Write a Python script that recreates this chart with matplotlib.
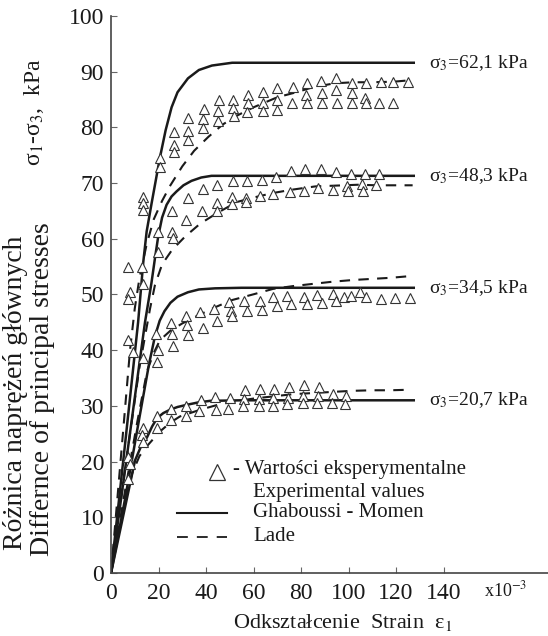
import matplotlib
matplotlib.use("Agg")
import matplotlib.pyplot as plt

# Fonts: Times-like serif for everything
plt.rcParams['font.family'] = ['Liberation Serif', 'DejaVu Serif']
plt.rcParams['mathtext.fontset'] = 'stix'

ink = '#1a1a1a'

# ---- data (strain x10^-3, deviator stress kPa) ----
# Ghaboussi - Momen (solid)
gm_62_x = [0, 6, 11.4, 13.6, 15, 17.1, 20.6, 23, 25.5, 28, 32.4, 37, 42.5, 51, 128]
gm_62_y = [0, 23.5, 45, 55.9, 61.3, 66.4, 74.6, 79.5, 83.6, 86.3, 88.8, 90.3, 91.1, 91.6, 91.6]
gm_48_x = [0, 7, 14.3, 17, 18.5, 19.9, 21.5, 23.4, 25.5, 27.6, 30.5, 33.9, 38, 42.3, 50, 128]
gm_48_y = [0, 22, 45, 52, 56.5, 60.5, 63.8, 66.1, 67.6, 68.5, 69.6, 70.4, 71, 71.3, 71.3, 71.3]
gm_34_x = [0, 6, 12, 16, 18.5, 20.5, 22.5, 25, 28, 32.4, 37, 43.8, 55, 128]
gm_34_y = [0, 13.5, 28, 37.5, 42.5, 45.3, 47, 48.5, 49.6, 50.4, 50.9, 51.1, 51.2, 51.2]
gm_20_x = [0, 5, 10.1, 12.5, 15.2, 17.3, 19.4, 22, 24.8, 28, 32, 36.5, 41.7, 55, 128]
gm_20_y = [0, 10, 20.2, 22.6, 24.4, 26.3, 27.8, 28.7, 29.3, 29.8, 30.2, 30.6, 30.9, 31, 31]

# Lade (dashed)
lade_62_x = [0, 4, 8, 10, 12, 15, 18, 21.5, 25, 30, 35, 41, 47, 53, 60, 70, 78, 85, 94, 102, 110, 119, 127]
lade_62_y = [0, 20, 40, 47.5, 53, 59, 63.5, 66.8, 69.6, 73, 75.8, 78.3, 80.5, 82.1, 83.6, 85.4, 86.3, 87.2, 87.9, 88.1, 88.1, 88.2, 88.5]
lade_48_x = [0, 6, 12, 16.4, 18.5, 21.5, 25.7, 31.2, 37.5, 44.6, 53, 60, 68, 76, 86, 104, 112, 127]
lade_48_y = [0, 19, 37, 47.4, 51.7, 55.4, 58, 60.4, 62.7, 64.6, 66.6, 67.4, 68.2, 68.8, 69.4, 69.7, 69.6, 69.6]
lade_34_x = [0, 6, 11, 15.2, 18, 20.6, 25, 30, 37, 43.8, 51, 60.6, 68.2, 76.6, 85, 93.5, 102, 110, 118, 126]
lade_34_y = [0, 15, 27, 36.3, 39.5, 41.8, 43.5, 44.8, 46.3, 47.7, 49, 50.1, 51, 51.5, 51.9, 52.3, 52.6, 52.8, 53, 53.3]
lade_20_x = [0, 5, 9, 12, 15.6, 20.6, 25, 29, 37.5, 45, 52, 59.8, 68.2, 76.6, 85, 93, 101.5, 110, 117.5, 126]
lade_20_y = [0, 11.5, 18, 21, 23, 25.4, 27, 28.1, 29.3, 30.2, 30.8, 31.3, 31.7, 32.1, 32.3, 32.5, 32.7, 32.8, 32.8, 32.9]

# experimental values (triangles)
exp_62_x = [13.6, 13.6, 13.6, 20.6, 20.6, 26.4, 26.4, 26.4, 32.3, 32.3, 32.3, 39.1, 38.9, 38.9,
            45.6, 45.2, 45.2, 51.4, 51.5, 51.8, 57.8, 57.8, 57.1, 64.1, 63.9, 63.9, 69.8, 70, 70,
            76.5, 76.1, 82.4, 82.1, 82.7, 88.4, 88.7, 88.7, 94.7, 94.7, 95, 101.3, 101.3, 101.3,
            107.4, 106.9, 107.4, 113.5, 113, 118.9, 118.6, 125.2]
exp_62_y = [67.5, 66.4, 65.2, 74.5, 72.9, 79.2, 76.8, 75.5, 81.7, 79.4, 77.7, 83.3, 81.5, 79.9,
            84.9, 82.9, 81.2, 84.9, 83.4, 82, 85.9, 84.3, 82.7, 86.4, 84.3, 82.9, 87, 84.9, 83.2,
            87.3, 84.3, 88, 85.8, 84.4, 88.4, 86.1, 84.4, 88.8, 86.7, 84.4, 88, 86.1, 84.4,
            88, 85.3, 84.3, 88.2, 84.3, 88.2, 84.3, 88.2]
exp_48_x = [7.3, 8, 7.3, 13.2, 13.3, 19.7, 19.7, 25.8, 25.8, 26.2, 31.6, 32.5, 38.6, 38.2,
            44.5, 44.5, 44.5, 51.2, 50.8, 50.8, 57.1, 56.8, 56.8, 63.4, 62.7, 69.5, 68.3, 75.8, 75.4,
            81.7, 81.3, 88.3, 87.3, 94.7, 93.6, 100.9, 99.2, 99.9, 106.9, 105.5, 106.2, 113, 111.6]
exp_48_y = [55, 50.5, 49.2, 55, 51.8, 61.3, 57.7, 64.9, 61.3, 60.1, 63.4, 67.3, 68.9, 64.9,
            69.6, 66.4, 65, 70.3, 67.5, 66.2, 70.4, 67.4, 66.6, 70.5, 67.6, 71, 68.1, 72.2, 68.4,
            72.5, 68.6, 72.5, 69.2, 71.9, 68.7, 71.6, 69.5, 68.6, 71.6, 69.8, 68.6, 71.7, 69.6]
exp_34_x = [7.3, 9.4, 13.6, 18.9, 19.9, 19.3, 25.1, 25.5, 26.2, 31.6, 31.9, 32.5, 37.5, 38.6,
            43.5, 44.8, 49.8, 50.5, 50.8, 56.1, 57.1, 62.7, 63.4, 68.3, 69.8, 74.2, 75.7, 81.3, 82.4,
            86.9, 88.7, 93.3, 94.7, 98.2, 100.9, 104.8, 107.4, 113.5, 119.6, 125.9]
exp_34_y = [41.9, 39.6, 38.6, 42.9, 40.1, 37.9, 44.9, 42.9, 40.8, 46.1, 44.5, 42.8, 46.9, 43.9,
            47.4, 45.3, 48.6, 47.1, 46.1, 48.8, 47, 48.9, 47.3, 49.5, 48, 49.7, 48.3, 49.5, 48.2,
            49.9, 48.5, 50.1, 48.9, 49.5, 49.8, 50.4, 49.5, 49.2, 49.3, 49.3]
exp_20_x = [7.3, 8.1, 7.1, 13.3, 12.9, 13.3, 19.2, 19.2, 25.1, 25.1, 31.6, 31.6, 37.9, 37.2,
            43.8, 44.2, 50.3, 49.1, 56.4, 55.9, 55.7, 62.7, 62.4, 62.4, 68.8, 68.3, 68.1,
            74.9, 74.5, 74.1, 81.3, 81, 81, 87.7, 87.3, 86.9, 93.6, 92.9, 98.9, 98.5]
exp_20_y = [20.8, 19.6, 16.9, 26, 24.8, 23.6, 28.1, 26, 29.4, 27.4, 30, 28.2, 31.1, 29,
            31.6, 29.3, 31.5, 29.5, 32.8, 31.3, 29.9, 33.1, 31.2, 29.9, 33.1, 31.4, 29.9,
            33.3, 31.4, 30.3, 33.7, 31.8, 30.5, 33.4, 31.7, 30.5, 32.2, 30.5, 31.7, 30.4]

sigma3_labels = ['σ$_3$=62,1 kPa', 'σ$_3$=48,3 kPa', 'σ$_3$=34,5 kPa', 'σ$_3$=20,7 kPa']
x_ticks = [0, 20, 40, 60, 80, 100, 120, 140]
y_ticks = [0, 10, 20, 30, 40, 50, 60, 70, 80, 90, 100]

# ---- figure ----
fig = plt.figure(figsize=(5.48, 6.36), dpi=100)
ax = fig.add_axes([0.2026, 0.0991, 0.7974, 0.8758])

solid = [(gm_62_x, gm_62_y), (gm_48_x, gm_48_y), (gm_34_x, gm_34_y), (gm_20_x, gm_20_y)]
dashed = [(lade_62_x, lade_62_y), (lade_48_x, lade_48_y), (lade_34_x, lade_34_y), (lade_20_x, lade_20_y)]
exps = [(exp_62_x, exp_62_y), (exp_48_x, exp_48_y), (exp_34_x, exp_34_y), (exp_20_x, exp_20_y)]

for (lx, ly), (dx, dy), (ex, ey), lab in zip(solid, dashed, exps, sigma3_labels):
    ax.plot(lx, ly, color=ink, lw=1.8, solid_capstyle='butt')
    ax.plot(dx, dy, color=ink, lw=1.5, dashes=(5, 4))
    ax.plot(ex, ey, ls='none', marker='^', ms=7, mfc='white', mec='#333333', mew=0.8)
    ax.text(134, ly[-1], lab, fontsize=14, color=ink, ha='left', va='center')

ax.set_xlim(0, 184)
ax.set_ylim(0, 100)
ax.set_xticks(x_ticks)
ax.set_yticks(y_ticks)
for s in ['top', 'right']:
    ax.spines[s].set_visible(False)
for s in ['left', 'bottom']:
    ax.spines[s].set_color('#444444')
    ax.spines[s].set_linewidth(1.2)
ax.tick_params(direction='in', length=4, width=0.8, color='#666666', labelsize=17, labelcolor=ink)
ax.tick_params(axis='x', pad=7)
ax.tick_params(axis='y', pad=5)

ax.text(0.904, -0.032, 'x10$^{-3}$', transform=ax.transAxes, fontsize=13, color=ink,
        ha='center', va='center')

# axis titles
ax.set_xlabel('Odkształcenie  Strain  ε$_1$', fontsize=16, color=ink)
ax.xaxis.set_label_coords(0.53, -0.07)
fig.text(0.029, 0.383, 'Różnica naprężeń głównych', rotation=90, fontsize=20, color=ink,
         ha='center', va='center')
fig.text(0.077, 0.388, 'Differnce of principal stresses', rotation=90, fontsize=20, color=ink,
         ha='center', va='center')
fig.text(0.062, 0.824, 'σ$_1$-σ$_3$,  kPa', rotation=90, fontsize=17, color=ink,
         ha='center', va='center')

# legend drawn by hand
ax.plot([0.2426], [0.1813], transform=ax.transAxes, ls='none', marker='^', ms=12,
        mfc='white', mec='#333333', mew=0.9)
ax.text(0.279, 0.185, '- Wartości eksperymentalne', transform=ax.transAxes, fontsize=15,
        color=ink, va='center')
ax.text(0.325, 0.145, 'Experimental values', transform=ax.transAxes, fontsize=15, color=ink,
        va='center')
ax.plot([0.151, 0.265], [0.108, 0.108], transform=ax.transAxes, color=ink, lw=1.5)
ax.text(0.325, 0.108, 'Ghaboussi - Momen', transform=ax.transAxes, fontsize=15, color=ink,
        va='center')
ax.plot([0.151, 0.265], [0.0646, 0.0646], transform=ax.transAxes, color=ink, lw=1.3,
        dashes=(6, 5))
ax.text(0.325, 0.066, 'Lade', transform=ax.transAxes, fontsize=15, color=ink, va='center')

fig.savefig('out.png', dpi=100)
